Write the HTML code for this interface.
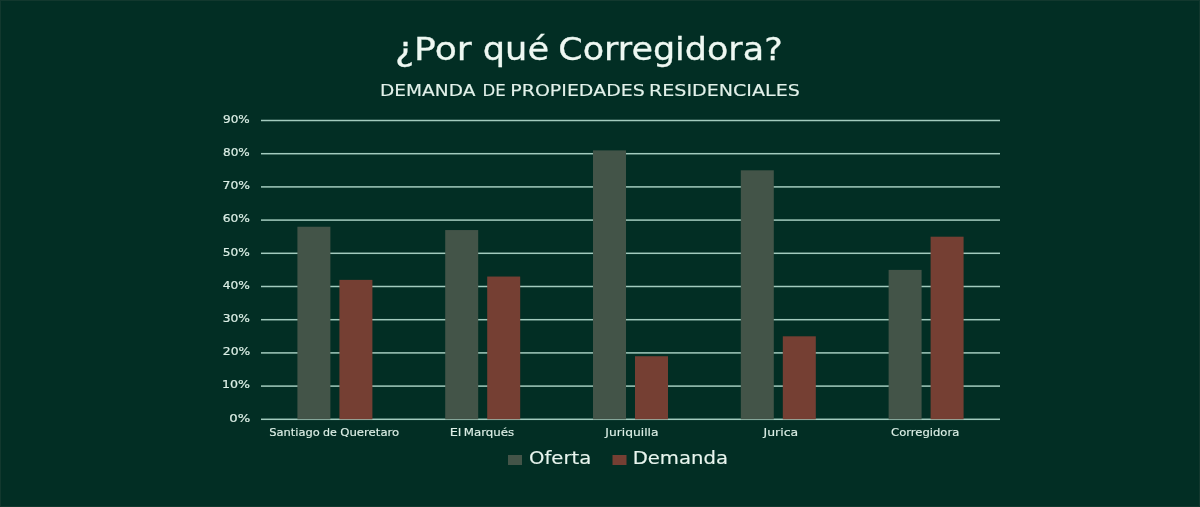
<!DOCTYPE html>
<html lang="es">
<head>
<meta charset="utf-8">
<title>¿Por qué Corregidora?</title>
<style>
html,body{margin:0;padding:0;}
body{width:1200px;height:507px;background:#022e24;overflow:hidden;}
svg{display:block;}
text{font-family:"DejaVu Sans","Liberation Sans",sans-serif;}
</style>
</head>
<body>
<svg width="1200" height="507" viewBox="0 0 1200 507">
<rect x="0" y="0" width="1200" height="507" fill="#022e24"/>
<text x="394.92" y="59.70" font-size="31.92" fill="#eef8f2" stroke="#eef8f2" stroke-width="0.3" textLength="76.80" lengthAdjust="spacingAndGlyphs">¿Por</text>
<text x="482.81" y="59.70" font-size="31.92" fill="#eef8f2" stroke="#eef8f2" stroke-width="0.3" textLength="66.21" lengthAdjust="spacingAndGlyphs">qué</text>
<text x="558.22" y="59.70" font-size="31.92" fill="#eef8f2" stroke="#eef8f2" stroke-width="0.3" textLength="224.51" lengthAdjust="spacingAndGlyphs">Corregidora?</text>
<text x="380.04" y="96.20" font-size="16.7" fill="#e2f1ea" stroke="#e2f1ea" stroke-width="0.15" textLength="95.35" lengthAdjust="spacingAndGlyphs">DEMANDA</text>
<text x="482.39" y="96.20" font-size="16.7" fill="#e2f1ea" stroke="#e2f1ea" stroke-width="0.15" textLength="23.25" lengthAdjust="spacingAndGlyphs">DE</text>
<text x="510.26" y="96.20" font-size="16.7" fill="#e2f1ea" stroke="#e2f1ea" stroke-width="0.15" textLength="134.56" lengthAdjust="spacingAndGlyphs">PROPIEDADES</text>
<text x="648.98" y="96.20" font-size="16.7" fill="#e2f1ea" stroke="#e2f1ea" stroke-width="0.15" textLength="150.83" lengthAdjust="spacingAndGlyphs">RESIDENCIALES</text>
<g fill="#a3cbbe">
<rect x="261" y="418.55" width="739" height="1.5"/>
<rect x="261" y="385.35" width="739" height="1.5"/>
<rect x="261" y="352.15" width="739" height="1.5"/>
<rect x="261" y="318.95" width="739" height="1.5"/>
<rect x="261" y="285.75" width="739" height="1.5"/>
<rect x="261" y="252.55" width="739" height="1.5"/>
<rect x="261" y="219.35" width="739" height="1.5"/>
<rect x="261" y="186.15" width="739" height="1.5"/>
<rect x="261" y="152.95" width="739" height="1.5"/>
<rect x="261" y="119.75" width="739" height="1.5"/>
</g>
<text x="229.29" y="421.60" font-size="11.29" fill="#dcefe6" stroke="#dcefe6" stroke-width="0.2" textLength="21.00" lengthAdjust="spacingAndGlyphs">0%</text>
<text x="222.00" y="388.40" font-size="11.29" fill="#dcefe6" stroke="#dcefe6" stroke-width="0.2" textLength="28.09" lengthAdjust="spacingAndGlyphs">10%</text>
<text x="222.85" y="355.20" font-size="11.29" fill="#dcefe6" stroke="#dcefe6" stroke-width="0.2" textLength="27.43" lengthAdjust="spacingAndGlyphs">20%</text>
<text x="222.66" y="322.00" font-size="11.29" fill="#dcefe6" stroke="#dcefe6" stroke-width="0.2" textLength="27.29" lengthAdjust="spacingAndGlyphs">30%</text>
<text x="222.85" y="288.80" font-size="11.29" fill="#dcefe6" stroke="#dcefe6" stroke-width="0.2" textLength="27.13" lengthAdjust="spacingAndGlyphs">40%</text>
<text x="222.85" y="255.60" font-size="11.29" fill="#dcefe6" stroke="#dcefe6" stroke-width="0.2" textLength="27.06" lengthAdjust="spacingAndGlyphs">50%</text>
<text x="222.76" y="222.40" font-size="11.29" fill="#dcefe6" stroke="#dcefe6" stroke-width="0.2" textLength="27.25" lengthAdjust="spacingAndGlyphs">60%</text>
<text x="222.60" y="189.20" font-size="11.29" fill="#dcefe6" stroke="#dcefe6" stroke-width="0.2" textLength="27.49" lengthAdjust="spacingAndGlyphs">70%</text>
<text x="223.01" y="156.00" font-size="11.29" fill="#dcefe6" stroke="#dcefe6" stroke-width="0.2" textLength="26.77" lengthAdjust="spacingAndGlyphs">80%</text>
<text x="223.05" y="122.80" font-size="11.29" fill="#dcefe6" stroke="#dcefe6" stroke-width="0.2" textLength="26.72" lengthAdjust="spacingAndGlyphs">90%</text>
<rect x="297.40" y="226.74" width="33" height="192.56" fill="#435448"/>
<rect x="339.40" y="279.86" width="33" height="139.44" fill="#753f33"/>
<rect x="445.20" y="230.06" width="33" height="189.24" fill="#435448"/>
<rect x="487.20" y="276.54" width="33" height="142.76" fill="#753f33"/>
<rect x="593.00" y="150.38" width="33" height="268.92" fill="#435448"/>
<rect x="635.00" y="356.22" width="33" height="63.08" fill="#753f33"/>
<rect x="740.80" y="170.30" width="33" height="249.00" fill="#435448"/>
<rect x="782.80" y="336.30" width="33" height="83.00" fill="#753f33"/>
<rect x="888.60" y="269.90" width="33" height="149.40" fill="#435448"/>
<rect x="930.60" y="236.70" width="33" height="182.60" fill="#753f33"/>
<text x="269.24" y="436.00" font-size="11.29" fill="#dcefe6" stroke="#dcefe6" stroke-width="0.15" textLength="50.61" lengthAdjust="spacingAndGlyphs">Santiago</text>
<text x="323.06" y="436.00" font-size="11.29" fill="#dcefe6" stroke="#dcefe6" stroke-width="0.15" textLength="13.84" lengthAdjust="spacingAndGlyphs">de</text>
<text x="340.26" y="436.00" font-size="11.29" fill="#dcefe6" stroke="#dcefe6" stroke-width="0.15" textLength="59.00" lengthAdjust="spacingAndGlyphs">Queretaro</text>
<text x="449.65" y="436.00" font-size="11.29" fill="#dcefe6" stroke="#dcefe6" stroke-width="0.15" textLength="11.76" lengthAdjust="spacingAndGlyphs">El</text>
<text x="463.78" y="436.00" font-size="11.29" fill="#dcefe6" stroke="#dcefe6" stroke-width="0.15" textLength="50.49" lengthAdjust="spacingAndGlyphs">Marqués</text>
<text x="605.37" y="435.80" font-size="11.29" fill="#dcefe6" stroke="#dcefe6" stroke-width="0.15" textLength="53.10" lengthAdjust="spacingAndGlyphs">Juriquilla</text>
<text x="763.56" y="435.80" font-size="11.29" fill="#dcefe6" stroke="#dcefe6" stroke-width="0.15" textLength="34.66" lengthAdjust="spacingAndGlyphs">Jurica</text>
<text x="891.07" y="436.00" font-size="11.29" fill="#dcefe6" stroke="#dcefe6" stroke-width="0.15" textLength="68.21" lengthAdjust="spacingAndGlyphs">Corregidora</text>
<rect x="508" y="455" width="14" height="10" fill="#435448"/>
<rect x="612.5" y="455" width="14" height="10" fill="#753f33"/>
<text x="528.97" y="463.70" font-size="18.17" fill="#e8f5ee" stroke="#e8f5ee" stroke-width="0.15" textLength="62.30" lengthAdjust="spacingAndGlyphs">Oferta</text>
<text x="632.65" y="463.60" font-size="18.17" fill="#e8f5ee" stroke="#e8f5ee" stroke-width="0.15" textLength="95.28" lengthAdjust="spacingAndGlyphs">Demanda</text>
<rect x="0.5" y="0.5" width="1199" height="506" fill="none" stroke="#12382e" stroke-width="1"/>
</svg>
</body>
</html>
